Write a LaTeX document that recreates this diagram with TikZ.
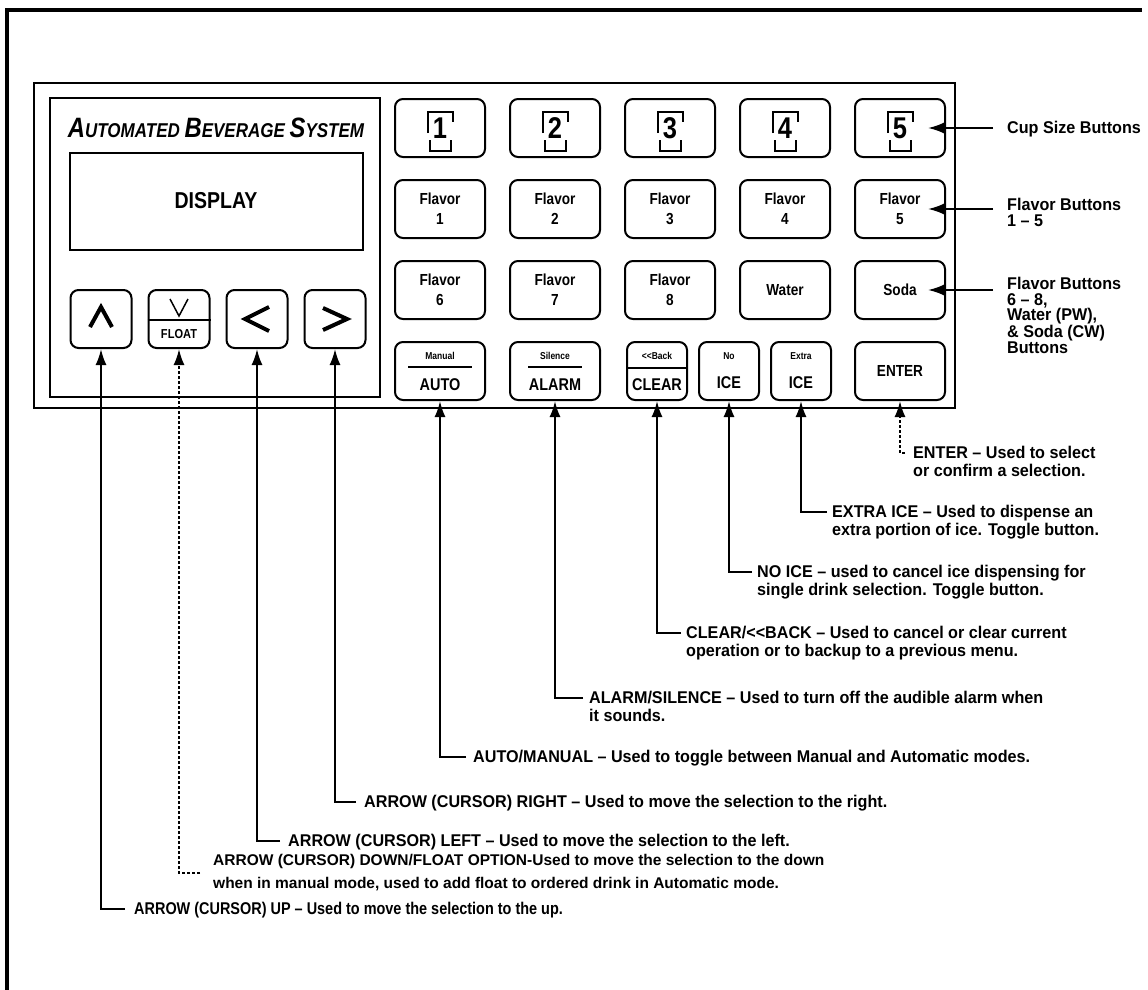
\documentclass[tikz,border=0pt]{standalone}
\usepackage{fontspec}
\setmainfont{Liberation Sans}
\newfontfamily\keyfont[FakeStretch=0.85]{Liberation Sans}
\newfontfamily\descfont[FakeStretch=0.95]{Liberation Sans}
\newcommand{\initial}[1]{{\fontsize{28}{28}\selectfont #1}}
\usetikzlibrary{arrows.meta,positioning,calc}

\begin{document}
\begin{tikzpicture}[
    x=1pt, y=-1pt,
    panel/.style = {draw, line width=2.5pt},
    button/.style = {draw, line width=2pt, rounded corners=8pt, minimum width=90pt, minimum height=58pt, inner sep=0pt, align=center, font=\keyfont\bfseries\fontsize{16}{20}\selectfont},
    smallbutton/.style = {button, minimum width=60pt},
    arrowbutton/.style = {button, minimum width=61pt},
    keytop/.style = {inner sep=0pt, font=\keyfont\bfseries\fontsize{10}{10}\selectfont},
    keybot/.style = {inner sep=0pt, font=\keyfont\bfseries\fontsize{17}{17}\selectfont},
    chevron/.style = {line width=4pt, line join=miter},
    divider/.style = {line width=1.5pt},
    desc/.style = {anchor=north west, inner sep=0pt, align=left, font=\descfont\bfseries\fontsize{17}{17.5}\selectfont},
    sidelabel/.style = {desc, font=\descfont\bfseries\fontsize{17}{15.7}\selectfont},
    lead/.style = {draw, line width=2pt, -{Latex[length=16pt,width=11pt]}},
    faint/.style = {lead, dash pattern=on 3pt off 2pt}
]
    \useasboundingbox (0,0) rectangle (1148,990);

    % Frame and panel
    \draw[line width=4pt] (7,990) -- (7,10) -- (1142,10);
    \draw[panel] (34,83) rectangle (955,408);
    \draw[panel] (50,98) rectangle (380,397);

    % Display section
    \node[font=\keyfont\bfseries\itshape\fontsize{20}{20}\selectfont] (title) at (216,128)
        {\initial{A}UTOMATED \initial{B}EVERAGE \initial{S}YSTEM};
    \node[panel, line width=2pt, minimum width=293pt, minimum height=97pt, font=\keyfont\bfseries\fontsize{23}{23}\selectfont] (display) at (216,201) {DISPLAY};

    \node[arrowbutton] (up) at (101,319) {};
    \node[arrowbutton, right=15pt of up] (down) {};
    \node[arrowbutton, right=15pt of down] (left) {};
    \node[arrowbutton, right=15pt of left] (right) {};

    \draw[chevron] ($(up)+(-11,8)$) -- ($(up)+(0,-12)$) -- ($(up)+(11,8)$);
    \draw[divider] ($(down)+(-9,-20)$) -- ($(down)+(0,-3)$) -- ($(down)+(9,-20)$);
    \draw[divider] ($(down.west)+(0,1)$) -- ($(down.east)+(0,1)$);
    \node[keytop, font=\keyfont\bfseries\fontsize{13}{13}\selectfont] (floatText) at ($(down)+(0,15)$) {FLOAT};
    \draw[chevron] ($(left)+(12,-12)$) -- ($(left)+(-12,0)$) -- ($(left)+(12,12)$);
    \draw[chevron] ($(right)+(-12,-11)$) -- ($(right)+(12,0)$) -- ($(right)+(-12,11)$);

    % Cup size buttons
    \node[button, font=\keyfont\bfseries\fontsize{30}{30}\selectfont] (c1) at (440,128) {1};
    \node[button, font=\keyfont\bfseries\fontsize{30}{30}\selectfont, right=23pt of c1] (c2) {2};
    \node[button, font=\keyfont\bfseries\fontsize{30}{30}\selectfont, right=23pt of c2] (c3) {3};
    \node[button, font=\keyfont\bfseries\fontsize{30}{30}\selectfont, right=23pt of c3] (c4) {4};
    \node[button, font=\keyfont\bfseries\fontsize{30}{30}\selectfont, right=23pt of c4] (c5) {5};
    \foreach \cup in {c1,c2,c3,c4,c5} {
        \draw[divider] ($(\cup)+(-12,5)$) -- ($(\cup)+(-12,-16)$) -- ($(\cup)+(13,-16)$) -- ($(\cup)+(13,-6)$);
        \draw[divider] ($(\cup)+(-10,12)$) -- ($(\cup)+(-10,23)$) -- ($(\cup)+(11,23)$) -- ($(\cup)+(11,12)$);
    }

    % Flavor buttons
    \node[button, below=21pt of c1] (f1) {Flavor\\1};
    \node[button, below=21pt of c2] (f2) {Flavor\\2};
    \node[button, below=21pt of c3] (f3) {Flavor\\3};
    \node[button, below=21pt of c4] (f4) {Flavor\\4};
    \node[button, below=21pt of c5] (f5) {Flavor\\5};

    \node[button, below=21pt of f1] (f6) {Flavor\\6};
    \node[button, below=21pt of f2] (f7) {Flavor\\7};
    \node[button, below=21pt of f3] (f8) {Flavor\\8};
    \node[button, below=21pt of f4] (water) {Water};
    \node[button, below=21pt of f5] (soda) {Soda};

    % Function buttons
    \node[button, below=21pt of f6] (auto) {};
    \node[button, below=21pt of f7] (alarm) {};
    \node[smallbutton, right=25pt of alarm] (clear) {};
    \node[smallbutton, right=10pt of clear] (noice) {};
    \node[smallbutton, right=10pt of noice] (extra) {};
    \node[button, below=21pt of soda] (enter) {ENTER};

    \node[keytop] (autoTop) at ($(auto)+(0,-15)$) {Manual};
    \draw[divider] ($(auto)+(-32,-4)$) -- ($(auto)+(32,-4)$);
    \node[keybot] (autoBot) at ($(auto)+(0,14)$) {AUTO};
    \node[keytop] (alarmTop) at ($(alarm)+(0,-15)$) {Silence};
    \draw[divider] ($(alarm)+(-27,-4)$) -- ($(alarm)+(27,-4)$);
    \node[keybot] (alarmBot) at ($(alarm)+(0,14)$) {ALARM};
    \node[keytop] (clearTop) at ($(clear)+(0,-15)$) {<\kern0pt<Back};
    \draw[divider] ($(clear.west)+(0,-3)$) -- ($(clear.east)+(0,-3)$);
    \node[keybot] (clearBot) at ($(clear)+(0,14)$) {CLEAR};
    \node[keytop] (noiceTop) at ($(noice)+(0,-15)$) {No};
    \node[keybot] (noiceBot) at ($(noice)+(0,12)$) {ICE};
    \node[keytop] (extraTop) at ($(extra)+(0,-15)$) {Extra};
    \node[keybot] (extraBot) at ($(extra)+(0,12)$) {ICE};

    % Side labels
    \node[sidelabel] (lCup) at (1007,121) {Cup Size Buttons};
    \node[sidelabel] (lFlavor) at (1007,198) {Flavor Buttons\\1 – 5};
    \node[sidelabel] (lMixed) at (1007,277) {Flavor Buttons\\6 – 8,\\Water (PW),\\\& Soda (CW)\\Buttons};

    \draw[lead] ([xshift=-14pt]lCup.west |- c5) -- ([xshift=-18pt]c5.east);
    \draw[lead] ([xshift=-14pt]lFlavor.west |- f5) -- ([xshift=-18pt]f5.east);
    \draw[lead] ([xshift=-14pt]lMixed.west |- soda) -- ([xshift=-18pt]soda.east);

    % Descriptions
    \node[desc] (tEnter) at (913,446) {ENTER – Used to select\\or confirm a selection.};
    \node[desc] (tExtra) at (832,505) {EXTRA ICE – Used to dispense an\\extra portion of ice. Toggle button.};
    \node[desc] (tNoice) at (757,565) {NO ICE – used to cancel ice dispensing for\\single drink selection. Toggle button.};
    \node[desc] (tClear) at (686,626) {CLEAR/<\kern0pt<BACK – Used to cancel or clear current\\operation or to backup to a previous menu.};
    \node[desc] (tAlarm) at (589,691) {ALARM/SILENCE – Used to turn off the audible alarm when\\it sounds.};
    \node[desc] (tAuto) at (473,750) {AUTO/MANUAL – Used to toggle between Manual and Automatic modes.};
    \node[desc] (tRight) at (364,795) {ARROW (CURSOR) RIGHT – Used to move the selection to the right.};
    \node[desc] (tLeft) at (288,834) {ARROW (CURSOR) LEFT – Used to move the selection to the left.};
    \node[desc, anchor=west, font=\bfseries\fontsize{15.5}{23}\selectfont] (tDown) at (213,873)
        {ARROW (CURSOR) DOWN/FLOAT OPTION-Used to move the selection to the down\\when in manual mode, used to add float to ordered drink in Automatic mode.};
    \node[desc, font=\keyfont\bfseries\fontsize{17}{17.5}\selectfont] (tUp) at (134,902) {ARROW (CURSOR) UP – Used to move the selection to the up.};

    \draw[faint] ([shift={(-8pt,-6.5pt)}]tEnter.north west) -| (enter.south);
    \draw[lead] ([shift={(-5pt,-6.5pt)}]tExtra.north west) -| (extra.south);
    \draw[lead] ([shift={(-5pt,-6.5pt)}]tNoice.north west) -| (noice.south);
    \draw[lead] ([shift={(-5pt,-6.5pt)}]tClear.north west) -| (clear.south);
    \draw[lead] ([shift={(-6pt,-6.5pt)}]tAlarm.north west) -| (alarm.south);
    \draw[lead] ([shift={(-7pt,-6.5pt)}]tAuto.north west) -| (auto.south);
    \draw[lead] ([shift={(-8pt,-6.5pt)}]tRight.north west) -| (right.south);
    \draw[lead] ([shift={(-8pt,-6.5pt)}]tLeft.north west) -| (left.south);
    \draw[faint] ([xshift=-13pt]tDown.west) -| (down.south);
    \draw[lead] ([shift={(-9pt,-6.5pt)}]tUp.north west) -| (up.south);
\end{tikzpicture}
\end{document}
